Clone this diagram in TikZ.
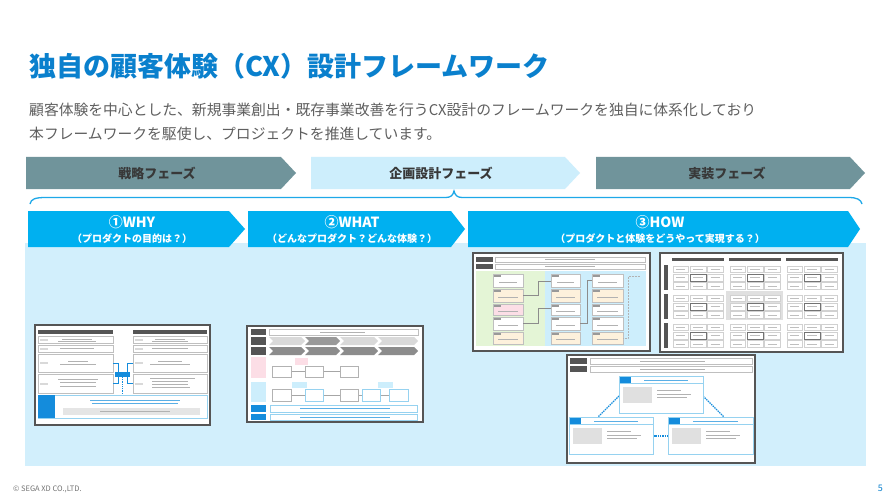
\documentclass[tikz,border=0pt]{standalone}
\usepackage{fontspec}
\setmainfont{Noto Sans CJK JP}
\definecolor{titleblue}{RGB}{10,128,205}
\definecolor{subgrey}{RGB}{95,95,95}
\definecolor{phasedark}{RGB}{112,148,155}
\definecolor{phaselight}{RGB}{205,238,252}
\definecolor{stepcyan}{RGB}{0,176,240}
\definecolor{panelblue}{RGB}{210,239,252}
\definecolor{bracecol}{RGB}{30,168,232}
\definecolor{tblue}{RGB}{20,140,220}
\definecolor{tlight}{RGB}{150,210,240}
\definecolor{tpink}{RGB}{252,222,230}
\definecolor{tgreen}{RGB}{228,245,214}
\definecolor{tbeige}{RGB}{253,241,220}
\definecolor{tdark}{RGB}{85,85,85}
\begin{document}
\begin{tikzpicture}[x=1pt,y=-1pt,
  phasetext/.style={text=black!78, font=\bfseries\fontsize{13}{15}\selectfont},
  steptitle/.style={text=white, font=\bfseries\fontsize{14}{16}\selectfont},
  stepsub/.style={text=white, font=\bfseries\fontsize{10}{12}\selectfont},
  thumb/.style={draw=tdark, fill=white, line width=1.1pt},
  darkbar/.style={fill=tdark},
  cellbox/.style={draw=black!25, fill=white, line width=0.4pt},
  txt/.style={draw=black!30, line width=0.7pt},
  btxt/.style={draw=tblue!70, line width=0.7pt},
  tline/.style={draw=tblue, line width=0.8pt},
  conn/.style={draw=tblue, line width=1.1pt, dash pattern=on 1.5pt off 0.8pt},
  gline/.style={draw=black!35, line width=0.5pt}]
\useasboundingbox (0,0) rectangle (889,500);
\fill[white] (0,0) rectangle (889,500);

% title and lead text
\node[anchor=west, inner sep=0, text=titleblue, font=\bfseries\fontsize{27}{30}\selectfont] (title) at (29,66) {独自の顧客体験（CX）設計フレームワーク};
\node[anchor=west, inner sep=0, text=subgrey, font=\fontsize{14.8}{17}\selectfont] (lead1) at (29,110) {顧客体験を中心とした、新規事業創出・既存事業改善を行うCX設計のフレームワークを独自に体系化しており};
\node[anchor=west, inner sep=0, text=subgrey, font=\fontsize{14.8}{17}\selectfont] (lead2) at (29,134) {本フレームワークを駆使し、プロジェクトを推進しています。};

% phase arrows
\fill[phasedark] (26,157) -- (281,157) -- (296,173) -- (281,189) -- (26,189) -- cycle;
\fill[phaselight] (311,157) -- (565,157) -- (580,173) -- (565,189) -- (311,189) -- cycle;
\fill[phasedark] (596,157) -- (850,157) -- (865,173) -- (850,189) -- (596,189) -- cycle;
\node[phasetext] (ph1) at (157,173) {戦略フェーズ};
\node[phasetext] (ph2) at (441,173) {企画設計フェーズ};
\node[phasetext] (ph3) at (727,173) {実装フェーズ};

% brace
\draw[bracecol, line width=1.3pt] (30,204) .. controls (31,199) and (35,197.5) .. (46,197.5) -- (446,197.5) .. controls (451,197.5) and (453,195) .. (454,191) .. controls (455,195) and (457,197.5) .. (462,197.5) -- (848,197.5) .. controls (857,197.5) and (861,199.5) .. (862,204);

% panel
\fill[panelblue] (25,243) rectangle (866,466);

% step arrows
\fill[stepcyan] (28,211) -- (229,211) -- (245,229) -- (229,247) -- (28,247) -- cycle;
\fill[stepcyan] (248,211) -- (451,211) -- (465,229) -- (451,247) -- (248,247) -- cycle;
\fill[stepcyan] (468,211) -- (848,211) -- (860,229) -- (848,247) -- (468,247) -- cycle;
\node[steptitle] (s1) at (132,222) {①WHY};
\node[stepsub] (s1b) at (132,239) {（プロダクトの目的は？）};
\node[steptitle] (s2) at (352,222) {②WHAT};
\node[stepsub] (s2b) at (352,239) {（どんなプロダクト？どんな体験？）};
\node[steptitle] (s3) at (660,222) {③HOW};
\node[stepsub] (s3b) at (660,239) {（プロダクトと体験をどうやって実現する？）};

% ---------- thumbnail 1 ----------
\draw[thumb] (35,325) rectangle (210,425);
\fill[darkbar] (38,330) rectangle (113,334);
\fill[darkbar] (133,330) rectangle (207,334);
\foreach \ya/\yb in {336/343, 345/352, 354/372, 374/393}{
  \draw[cellbox] (38,\ya) rectangle (113,\yb);
  \draw[cellbox] (133,\ya) rectangle (207,\yb);
  \fill[black!15] (40,{(\ya+\yb)/2-1}) rectangle (48,{(\ya+\yb)/2+1});
  \fill[black!15] (135,{(\ya+\yb)/2-1}) rectangle (143,{(\ya+\yb)/2+1});
}
\draw[txt] (62,339) -- (92,339); \draw[txt] (58,341.5) -- (96,341.5);
\draw[txt] (60,348.5) -- (94,348.5);
\draw[txt] (68,361) -- (88,361); \draw[txt] (60,364) -- (96,364);
\draw[txt] (58,379) -- (98,379); \draw[txt] (60,382.5) -- (96,382.5); \draw[txt] (60,386) -- (96,386);
\draw[txt] (155,339) -- (185,339); \draw[txt] (152,341.5) -- (188,341.5);
\draw[txt] (152,348.5) -- (188,348.5);
\draw[txt] (158,361) -- (182,361); \draw[txt] (150,364) -- (190,364);
\draw[txt] (150,378) -- (195,378); \draw[txt] (152,381) -- (188,381); \draw[txt] (152,384) -- (188,384); \draw[txt] (152,387) -- (190,387);
\fill[tblue] (115,372) rectangle (130,377);
\draw[tline] (113,363) -| (118,372);
\draw[tline] (113,383) -| (118,377);
\draw[tline] (133,363) -| (127,372);
\draw[tline] (133,383) -| (127,377);
\draw[tblue, line width=0.8pt, densely dotted] (122.5,377) -- (122.5,395);
\draw[draw=tlight, fill=white, line width=0.6pt] (38,395) rectangle (207,418);
\fill[tblue] (38,395) rectangle (55,418);
\draw[btxt] (90,400) -- (180,400); \draw[btxt] (92,403.5) -- (178,403.5);
\fill[black!10] (63,408) rectangle (200,415);
\draw[txt] (100,411.5) -- (170,411.5);

% ---------- thumbnail 2 ----------
\draw[thumb] (247,326) rectangle (423,422);
\fill[darkbar] (251,329) rectangle (266,335);
\draw[cellbox] (269,329) rectangle (418,335);
\draw[txt] (320,332) -- (365,332);
\fill[darkbar] (251,337) rectangle (266,345);
\fill[darkbar] (251,347) rectangle (266,355);
\foreach \xa/\xb/\c in {269/305/15, 305/340/40, 340/378/15, 378/418/15}{
  \fill[black!\c] (\xa,337) -- (\xb-4,337) -- (\xb,341) -- (\xb-4,345) -- (\xa,345) -- (\xa+4,341) -- cycle;
}
\foreach \xa/\xb/\c in {269/305/45, 305/340/45, 340/378/45, 378/418/45}{
  \fill[black!\c] (\xa,347) -- (\xb-4,347) -- (\xb,351) -- (\xb-4,355) -- (\xa,355) -- (\xa+4,351) -- cycle;
}
\fill[tpink] (251,357) rectangle (266,378);
\fill[phaselight] (251,382) rectangle (266,402);
\draw[gline] (291,371.5) -- (305,371.5);
\draw[gline] (323,371.5) -- (340,371.5);
\foreach \xa/\xb in {272/291, 305/323, 340/358}{
  \draw[cellbox, draw=black!30] (\xa,366) rectangle (\xb,377);
}
\fill[tpink] (295,358) rectangle (308,365);
\draw[gline] (291,395) -- (305,395); \draw[gline] (323,395) -- (340,395);
\draw[gline] (358,395) -- (362,395); \draw[gline] (380,395) -- (389,395);
\foreach \xa/\xb/\cc in {272/291/black!30, 305/323/tlight, 340/358/black!30, 362/380/tlight, 389/408/tlight}{
  \draw[cellbox, draw=\cc] (\xa,389) rectangle (\xb,401);
}
\fill[phaselight] (292,382) rectangle (307,388);
\fill[phaselight] (378,382) rectangle (393,388);
\fill[tblue] (251,405) rectangle (266,412);
\draw[draw=tlight, fill=white, line width=0.5pt] (270,405) rectangle (417,412);
\draw[btxt] (300,408.5) -- (390,408.5);
\fill[tblue] (251,414) rectangle (266,420);
\draw[draw=tlight, fill=white, line width=0.5pt] (270,414) rectangle (417,420);
\draw[btxt] (300,417) -- (390,417);

% ---------- thumbnail 3 ----------
\draw[thumb] (473,253) rectangle (650,351);
\fill[darkbar] (476,257) rectangle (493,262);
\draw[cellbox] (495,257) rectangle (645,262);
\draw[txt] (545,259.5) -- (595,259.5);
\fill[darkbar] (476,264) rectangle (493,269);
\draw[cellbox] (495,264) rectangle (645,269);
\draw[txt] (545,266.5) -- (595,266.5);
\fill[tgreen] (476,271) rectangle (545,346);
\fill[phaselight] (545,271) rectangle (646,346);
\foreach \xa/\xb/\cc in {493/523/tpink, 551/580/white, 592/623/white}{
  \draw[cellbox] (\xa,274) rectangle (\xb,287);
  \draw[cellbox, fill=tbeige] (\xa,289) rectangle (\xb,302);
  \draw[cellbox, fill=\cc] (\xa,304) rectangle (\xb,315);
  \draw[cellbox] (\xa,317) rectangle (\xb,330);
  \draw[cellbox, fill=tbeige] (\xa,332) rectangle (\xb,344);
  \fill[black!40] (\xa+1,275) rectangle (\xa+8,277);
  \fill[black!40] (\xa+1,290) rectangle (\xa+8,292);
  \fill[black!40] (\xa+1,305) rectangle (\xa+8,307);
  \fill[black!40] (\xa+1,318) rectangle (\xa+8,320);
  \fill[black!40] (\xa+1,333) rectangle (\xa+8,335);
  \draw[txt] (\xa+6,282) -- (\xb-6,282);
  \draw[txt] (\xa+5,297) -- (\xb-5,297);
  \draw[txt] (\xa+5,311) -- (\xb-5,311);
  \draw[txt] (\xa+5,325) -- (\xb-5,325);
  \draw[txt] (\xa+5,339) -- (\xb-5,339);
}
\draw[draw=black!45, line width=0.6pt] (523,295) -| (538,281) -- (551,281);
\draw[draw=black!45, line width=0.6pt] (523,323) -| (538,308) -- (551,308);
\draw[draw=black!45, line width=0.6pt] (580,323) -| (587,280) -- (592,280);
\draw[draw=black!30, line width=0.5pt, densely dotted] (623,338) -| (628,276) -- (640,276);

% ---------- thumbnail 4 ----------
\draw[thumb] (660,253) rectangle (843,352);
\foreach \xa in {672,729,786}{
  \fill[darkbar] (\xa,258) rectangle (\xa+52,261);
}
\foreach \ya in {265,294,323}{
  \fill[darkbar] (664,\ya) rectangle (668,\ya+25);
}
\fill[black!12] (726,291) rectangle (783,320);
\foreach \xa in {672,729,786}{
  \foreach \ya in {265,294,323}{
    \foreach \i in {0,1,2}{
      \foreach \j in {0,1,2}{
        \draw[cellbox, draw=black!18] ({\xa+\i*17.33+0.8},{\ya+\j*8.33+0.8}) rectangle ({\xa+(\i+1)*17.33-0.8},{\ya+(\j+1)*8.33-0.8});
        \draw[txt, draw=black!25, line width=0.5pt] ({\xa+\i*17.33+4},{\ya+\j*8.33+4.2}) -- ({\xa+(\i+1)*17.33-4},{\ya+\j*8.33+4.2});
      }
    }
    \draw[draw=black!55, line width=0.6pt] ({\xa+17.33+0.8},{\ya+8.33+0.8}) rectangle ({\xa+2*17.33-0.8},{\ya+2*8.33-0.8});
  }
}

% ---------- thumbnail 5 ----------
\draw[thumb] (567,355) rectangle (755,463);
\fill[darkbar] (570,358) rectangle (587,364);
\draw[cellbox] (590,358) rectangle (752,364);
\draw[txt] (640,361) -- (705,361);
\fill[darkbar] (570,366) rectangle (587,372);
\draw[cellbox] (590,366) rectangle (752,372);
\draw[txt] (640,369) -- (705,369);
\draw[conn] (619,396) -- (598,417);
\draw[conn] (703,396) -- (724,417);
\draw[conn] (653,436) -- (668,436);
\foreach \xa/\ya/\w in {619/376/84, 569/417/84, 668/417/85}{
  \draw[draw=tlight, fill=white, line width=0.7pt] (\xa,\ya) rectangle (\xa+\w,\ya+37);
  \draw[draw=tlight, line width=0.5pt] (\xa,\ya+7) -- (\xa+\w,\ya+7);
  \fill[tblue] (\xa+1,\ya+1) rectangle (\xa+12,\ya+7);
  \draw[btxt] (\xa+25,\ya+4) -- (\xa+\w-15,\ya+4);
  \fill[black!12] (\xa+4,\ya+11) rectangle (\xa+33,\ya+27);
  \draw[txt] (\xa+38,\ya+14) -- (\xa+62,\ya+14);
  \draw[txt] (\xa+38,\ya+18) -- (\xa+72,\ya+18);
  \draw[txt] (\xa+38,\ya+21) -- (\xa+68,\ya+21);
}

% footer
\node[anchor=west, inner sep=0, text=black!55, font=\fontsize{7.5}{8}\selectfont] (copy) at (13,489) {© SEGA XD CO.,LTD.};
\node[anchor=east, inner sep=0, text=titleblue, font=\fontsize{9}{10}\selectfont] (page) at (883,488) {5};
\end{tikzpicture}
\end{document}
